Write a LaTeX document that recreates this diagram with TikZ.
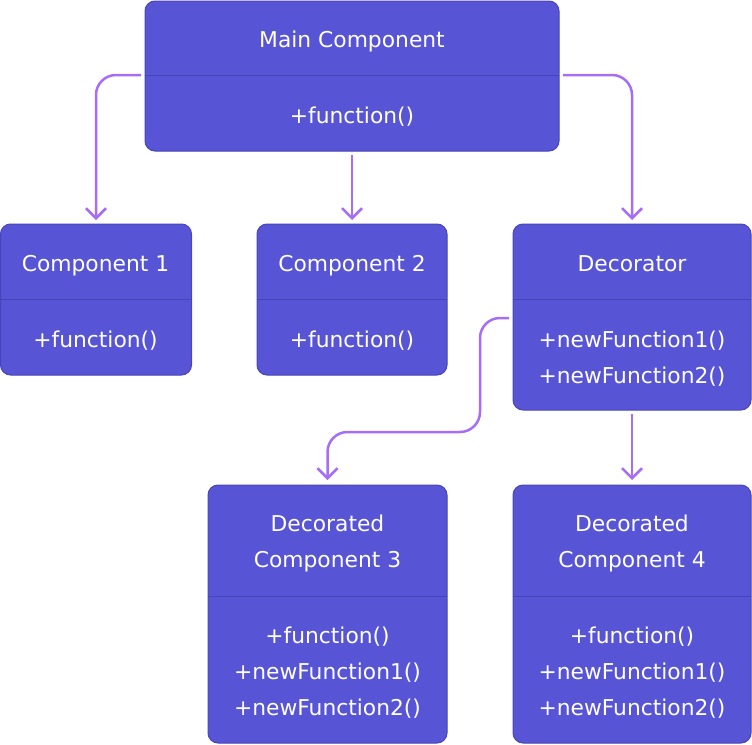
\documentclass[tikz,border=0pt]{standalone}
\usepackage{fontspec}
\setmainfont{DejaVu Sans}
\usetikzlibrary{arrows.meta}
\definecolor{boxfill}{HTML}{5754D5}
\definecolor{boxedge}{HTML}{4845B8}
\definecolor{conncol}{HTML}{A66DF7}
\tikzset{
  umlbox/.style={draw=boxedge, line width=1pt, fill=boxfill, rounded corners=10pt, anchor=north west, inner sep=0pt, outer sep=0pt},
  divider/.style={draw=boxedge, line width=1pt},
  txt/.style={text=white, anchor=base, inner sep=0pt, font=\fontsize{21.8}{24}\selectfont},
  conn/.style={draw=conncol, line width=2.5pt, rounded corners=20pt, -{Straight Barb[length=10pt,width=20pt]}}
}
\begin{document}
\begin{tikzpicture}[x=1pt,y=-1pt]
\useasboundingbox (0,0) rectangle (752,744);
% boxes
\node[umlbox, minimum width=414pt, minimum height=150pt] (main) at (145,1) {};
\node[umlbox, minimum width=191pt, minimum height=151pt] (c1) at (0.5,224) {};
\node[umlbox, minimum width=190pt, minimum height=151pt] (c2) at (257,224) {};
\node[umlbox, minimum width=238pt, minimum height=186pt] (dec) at (513,224) {};
\node[umlbox, minimum width=239pt, minimum height=258pt] (dc3) at (208,485) {};
\node[umlbox, minimum width=238pt, minimum height=258pt] (dc4) at (513,485) {};
% dividers
\draw[divider] (main.west |- 0,75) -- (main.east |- 0,75);
\draw[divider] (c1.west |- 0,299) -- (c1.east |- 0,299);
\draw[divider] (c2.west |- 0,299) -- (c2.east |- 0,299);
\draw[divider] (dec.west |- 0,299) -- (dec.east |- 0,299);
\draw[divider] (dc3.west |- 0,596) -- (dc3.east |- 0,596);
\draw[divider] (dc4.west |- 0,596) -- (dc4.east |- 0,596);
% texts
\node[txt] (tmain) at (352,47) {Main Component};
\node[txt] (fmain) at (352,123) {+function()};
\node[txt] (tc1) at (95.5,271) {Component 1};
\node[txt] (fc1) at (95.5,347) {+function()};
\node[txt] (tc2) at (352,271) {Component 2};
\node[txt] (fc2) at (352,347) {+function()};
\node[txt] (tdec) at (632,271) {Decorator};
\node[txt] (fdeca) at (632,347) {+newFunction1()};
\node[txt] (fdecb) at (632,383) {+newFunction2()};
\node[txt] (tdc3a) at (327.5,531) {Decorated};
\node[txt] (tdc3b) at (327.5,567) {Component 3};
\node[txt] (fdc3a) at (327.5,643) {+function()};
\node[txt] (fdc3b) at (327.5,679) {+newFunction1()};
\node[txt] (fdc3c) at (327.5,715) {+newFunction2()};
\node[txt] (tdc4a) at (632,531) {Decorated};
\node[txt] (tdc4b) at (632,567) {Component 4};
\node[txt] (fdc4a) at (632,643) {+function()};
\node[txt] (fdc4b) at (632,679) {+newFunction1()};
\node[txt] (fdc4c) at (632,715) {+newFunction2()};
% connector anchors
\coordinate (mainL) at (141,75);
\coordinate (mainR) at (563,75);
\coordinate (mainB) at (352,155);
\coordinate (decL) at (509,318);
\coordinate (bend) at (480,432);
\coordinate (decB) at (632,414);
% connectors
\draw[conn, shorten >=4pt] (mainL) -| (c1.north);
\draw[conn, shorten >=4pt] (mainB) -- (c2.north);
\draw[conn, shorten >=4pt] (mainR) -| (dec.north);
\draw[conn, shorten >=5pt] (decL) -| (bend) -| (dc3.north);
\draw[conn, shorten >=5pt] (decB) -- (dc4.north);
\end{tikzpicture}
\end{document}
